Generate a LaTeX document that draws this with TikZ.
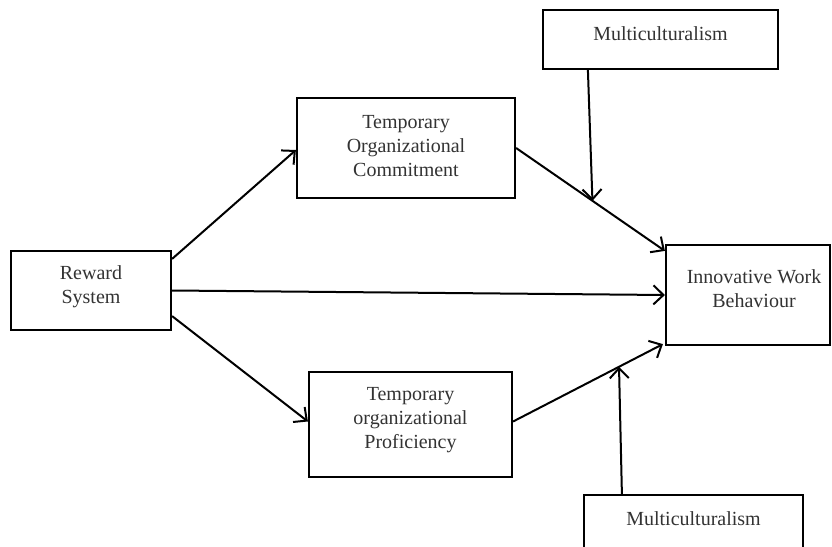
\documentclass[tikz,border=0pt]{standalone}
\usepackage{fontspec}
\setmainfont{Liberation Serif}
\usetikzlibrary{arrows.meta,calc}
\begin{document}
\begin{tikzpicture}[x=1pt,y=-1pt,
  box/.style={draw,line width=2.2pt,inner sep=0pt},
  txt/.style={font=\fontsize{20}{24}\selectfont,align=center,text=black!80,inner sep=0pt},
  arr/.style={line width=2pt,-{Straight Barb[length=10pt,width=19pt,line width=2pt]}}]
\clip (0,0) rectangle (832,546);
\fill[white] (0,0) rectangle (832,546);
% boxes
\node[box,minimum width=160pt,minimum height=79pt] (rs) at (91,290.5) {};
\node[box,minimum width=218pt,minimum height=100pt] (toc) at (406,148) {};
\node[box,minimum width=203pt,minimum height=105pt] (top) at (410.5,424.5) {};
\node[box,minimum width=164pt,minimum height=100pt] (iwb) at (748,295) {};
\node[box,minimum width=235pt,minimum height=59pt] (mua) at (660.5,39.5) {};
\node[box,minimum width=219pt,minimum height=70pt] (mub) at (693.5,530) {};
% texts
\node[txt] (rst) at (91,287) {Reward\\System};
\node[txt] (toct) at (406,146) {Temporary\\Organizational\\Commitment};
\node[txt] (topt) at (410.5,420) {Temporary\\organizational\\Proficiency};
\node[txt] (iwbt) at (754,289) {Innovative Work\\Behaviour};
\node[txt] (muat) at (660.5,34) {Multiculturalism};
\node[txt] (mubt) at (693.5,519) {Multiculturalism};
% connectors
\draw[arr] ($(rs.north east)+(0,9)$) -- ($(toc.west)+(0,2)$);
\draw[arr] (rs.east) -- (iwb.west);
\draw[arr] ($(rs.south east)+(0,-15)$) -- ($(top.west)+(0,-3)$);
\draw[arr] (toc.east) -- coordinate[pos=0.513] (ma) ($(iwb.north west)+(0,7)$);
\draw[arr] ($(top.east)+(0,-3)$) -- coordinate[pos=0.707] (mb) ($(iwb.south west)+(-2,-2)$);
\draw[arr] ($(mua.south west)+(46,0)$) -- (ma);
\draw[arr] ($(mub.north west)+(39,0)$) -- (mb);
\end{tikzpicture}
\end{document}
